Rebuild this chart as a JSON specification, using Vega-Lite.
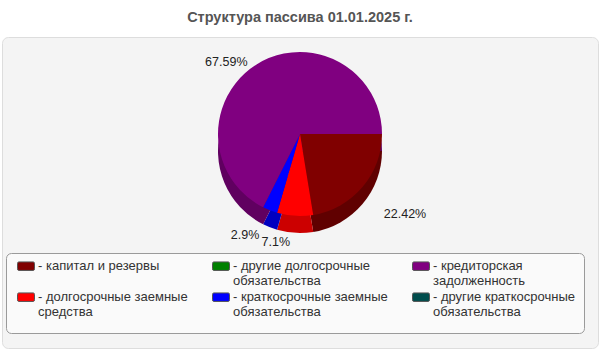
{
  "$schema": "https://vega.github.io/schema/vega-lite/v6.json",
  "autosize": "none",
  "width": 596,
  "height": 311,
  "padding": {"left": 2, "top": 37, "right": 2, "bottom": 2},
  "background": "#ffffff",
  "view": {"fill": "#f4f4f4", "stroke": "#dddddd", "strokeWidth": 1, "cornerRadius": 6},
  "title": {
    "text": "Структура пассива 01.01.2025 г.",
    "font": "Liberation Sans",
    "fontSize": 14.5,
    "fontWeight": "bold",
    "color": "#555555",
    "anchor": "middle",
    "offset": 12
  },
  "config": {
    "font": "Liberation Sans"
  },
  "data": {
    "values": [
      {"idx": 1, "category": "капитал и резервы", "value": 22.42},
      {"idx": 2, "category": "долгосрочные заемные средства", "value": 7.1},
      {"idx": 3, "category": "другие долгосрочные обязательства", "value": 0},
      {"idx": 4, "category": "краткосрочные заемные обязательства", "value": 2.9},
      {"idx": 5, "category": "кредиторская задолженность", "value": 67.59},
      {"idx": 6, "category": "другие краткосрочные обязательства", "value": 0}
    ]
  },
  "encoding": {
    "theta": {"field": "value", "type": "quantitative", "stack": true, "scale": {"range": [1.5707963, 7.8539816]}},
    "order": {"field": "idx", "type": "quantitative"}
  },
  "layer": [
    {
      "mark": {"type": "arc", "outerRadius": 82, "x": 298, "y": 114},
      "encoding": {
        "color": {
          "field": "category",
          "type": "nominal",
          "scale": {
            "domain": ["капитал и резервы", "другие долгосрочные обязательства", "кредиторская задолженность", "долгосрочные заемные средства", "краткосрочные заемные обязательства", "другие краткосрочные обязательства"],
            "range": ["#600000", "#006000", "#600060", "#cc0000", "#0000c0", "#003a3a"]
          },
          "legend": null
        }
      }
    },
    {
      "mark": {"type": "arc", "outerRadius": 82, "x": 298, "y": 97},
      "encoding": {
        "color": {
          "field": "category",
          "type": "nominal",
          "scale": {
            "domain": ["капитал и резервы", "другие долгосрочные обязательства", "кредиторская задолженность", "долгосрочные заемные средства", "краткосрочные заемные обязательства", "другие краткосрочные обязательства"],
            "range": ["#800000", "#008000", "#800080", "#ff0000", "#0000ff", "#004d4d"]
          },
          "legend": {
            "orient": "none",
            "legendX": 4,
            "legendY": 216,
            "title": "\u00a0",
            "titleOrient": "bottom",
            "titleFontSize": 4,
            "titlePadding": 2,
            "columns": 3,
            "direction": "horizontal",
            "gridAlign": "none",
            "columnPadding": 21,
            "rowPadding": 2,
            "padding": 8,
            "symbolOffset": 3,
            "fillColor": "#fafafa",
            "strokeColor": "#9a9a9a",
            "cornerRadius": 5,
            "symbolType": "M-0.85,-0.95H0.85Q1,-0.95 1,-0.75V-0.15Q1,0.05 0.85,0.05H-0.85Q-1,0.05 -1,-0.15V-0.75Q-1,-0.95 -0.85,-0.95Z",
            "symbolSize": 289,
            "symbolStrokeColor": "#555555",
            "symbolStrokeWidth": 1,
            "symbolOpacity": 1,
            "labelFont": "Liberation Sans",
            "labelFontSize": 13,
            "labelColor": "#333333",
            "labelOffset": 3,
            "labelLimit": 300,
            "labelBaseline": "alphabetic",
            "labelLineHeight": 15,
            "labelExpr": "{'капитал и резервы': ['- капитал и резервы'], 'долгосрочные заемные средства': ['- долгосрочные заемные', '\u00a0\u00a0средства'], 'другие долгосрочные обязательства': ['- другие долгосрочные', '\u00a0\u00a0обязательства'], 'краткосрочные заемные обязательства': ['- краткосрочные заемные', '\u00a0\u00a0обязательства'], 'кредиторская задолженность': ['- кредиторская', '\u00a0\u00a0задолженность'], 'другие краткосрочные обязательства': ['- другие краткосрочные', '\u00a0\u00a0обязательства']}[datum.label]"
          }
        }
      }
    },
    {
      "transform": [{"calculate": "datum.idx == 5 ? datum.value + '%' : ''", "as": "label"}],
      "mark": {"type": "text", "radius": 100, "x": 298, "y": 110, "align": "right", "fontSize": 12.5, "font": "Liberation Sans", "color": "#222222"},
      "encoding": {
        "text": {"field": "label", "type": "nominal"}
      }
    },
    {
      "transform": [{"calculate": "datum.idx == 1 ? datum.value + '%' : ''", "as": "label"}],
      "mark": {"type": "text", "radius": 110, "x": 298, "y": 106, "align": "left", "fontSize": 12.5, "font": "Liberation Sans", "color": "#222222"},
      "encoding": {
        "text": {"field": "label", "type": "nominal"}
      }
    },
    {
      "transform": [{"calculate": "datum.idx == 2 || datum.idx == 4 ? datum.value + '%' : ''", "as": "label"}],
      "mark": {"type": "text", "radius": 101, "x": 280, "y": 104, "align": "center", "fontSize": 12.5, "font": "Liberation Sans", "color": "#222222"},
      "encoding": {
        "text": {"field": "label", "type": "nominal"}
      }
    }
  ],
  "resolve": {"scale": {"color": "independent"}}
}
